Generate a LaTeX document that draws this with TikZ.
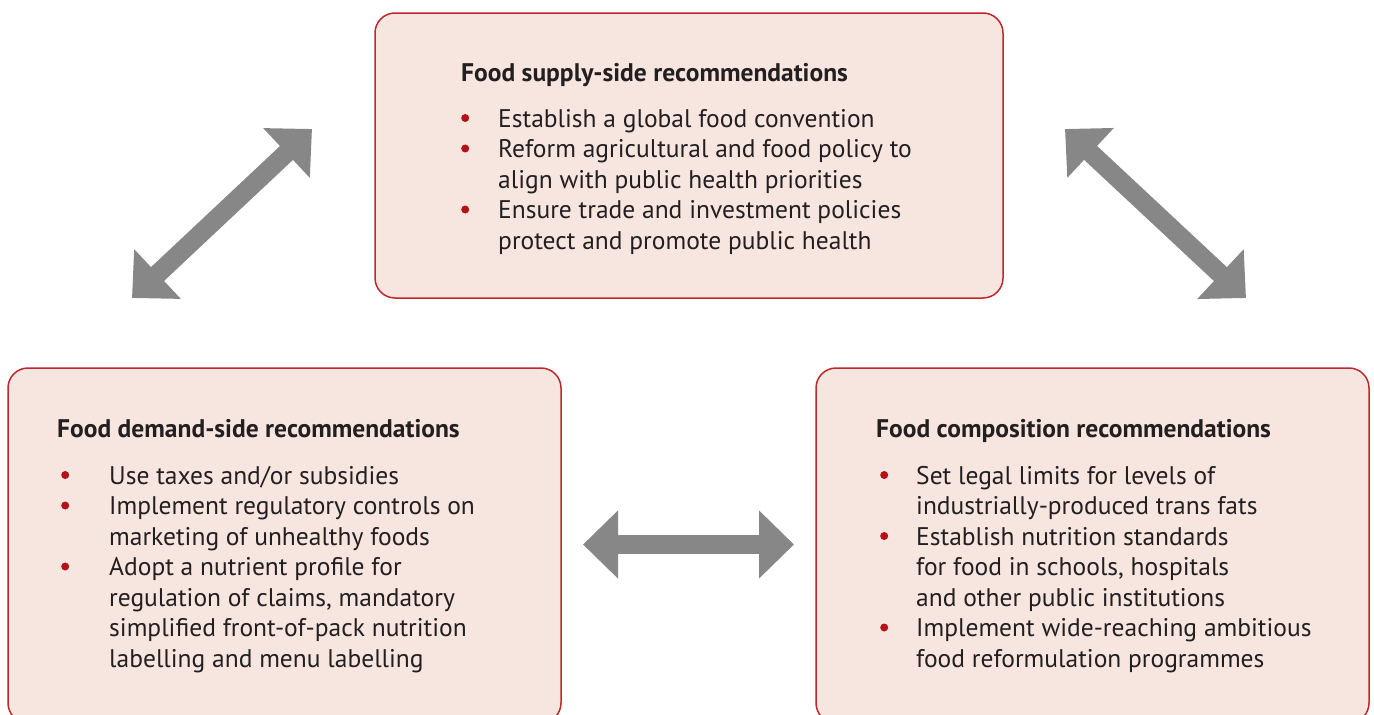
\documentclass[tikz,border=0pt]{standalone}
\usepackage{fontspec}
\setmainfont{PT Sans}
\usepackage{xcolor}
\usepackage{tikz}
\usetikzlibrary{arrows.meta}

\definecolor{boxpink}{HTML}{F7E5E0}
\definecolor{boxred}{HTML}{C0272D}
\definecolor{bulletred}{HTML}{B31217}
\definecolor{arrowgray}{HTML}{878787}
\definecolor{textgray}{HTML}{231F20}

\newcommand{\listfont}{\fontsize{25.5}{30.5}\selectfont}
\newcommand{\titlefont}{\fontsize{25.5}{30.5}\selectfont\bfseries}
\newcommand{\bdot}{\tikz[baseline=-9pt]\fill[bulletred] (0,0) circle (4pt);}

\tikzset{
  recbox/.style={draw=boxred, fill=boxpink, line width=1.5pt, rounded corners=20pt},
  rectitle/.style={anchor=base west, inner sep=0pt, text=textgray, font=\titlefont},
  reclist/.style={anchor=base west, inner sep=0pt, text=textgray, font=\listfont},
  twoway/.style={draw=arrowgray, line width=19pt,
    {Triangle[length=35pt,width=66pt]}-{Triangle[length=35pt,width=66pt]}}
}

\begin{document}
\begin{tikzpicture}[x=1pt, y=-1pt]
\useasboundingbox (0,0) rectangle (1374,715);
%%%%% Boxes %%%%%
\node[recbox, minimum width=628pt, minimum height=285pt] (supply) at (689,155.5) {};
\node[recbox, minimum width=553pt, minimum height=355pt] (demand) at (284.5,545.5) {};
\node[recbox, minimum width=553pt, minimum height=355pt] (compo) at (1092.5,545.5) {};
%%%%% Texts %%%%%
\node[rectitle] (supplytitle) at (461,81) {Food supply-side recommendations};
\node[reclist] (supplylist) at (461,127) {\begin{tabular}[t]{@{}l@{}l@{}}
\makebox[37pt][l]{\bdot} & Establish a global food convention\\
\makebox[37pt][l]{\bdot} & Reform agricultural and food policy to\\
      & align with public health priorities\\
\makebox[37pt][l]{\bdot} & Ensure trade and investment policies\\
      & protect and promote public health
\end{tabular}};
\node[rectitle] (demandtitle) at (57,437) {Food demand-side recommendations};
\node[reclist] (demandlist) at (61,484) {\begin{tabular}[t]{@{}l@{}l@{}}
\makebox[48pt][l]{\bdot} & Use taxes and/or subsidies\\
\makebox[48pt][l]{\bdot} & Implement regulatory controls on\\
      & marketing of unhealthy foods\\
\makebox[48pt][l]{\bdot} & Adopt a nutrient profile for\\
      & regulation of claims, mandatory\\
      & simplified front-of-pack nutrition\\
      & labelling and menu labelling
\end{tabular}};
\node[rectitle] (compotitle) at (876,437) {Food composition recommendations};
\node[reclist] (compolist) at (880,484) {\begin{tabular}[t]{@{}l@{}l@{}}
\makebox[36pt][l]{\bdot} & Set legal limits for levels of\\
      & industrially-produced trans fats\\
\makebox[36pt][l]{\bdot} & Establish nutrition standards\\
      & for food in schools, hospitals\\
      & and other public institutions\\
\makebox[36pt][l]{\bdot} & Implement wide-reaching ambitious\\
      & food reformulation programmes
\end{tabular}};
%%%%% Arrows %%%%%
\coordinate (sd1) at (132,298);
\coordinate (sd2) at (312,129);
\coordinate (sc1) at (1065,129);
\coordinate (sc2) at (1246,298);
\coordinate (dc1) at (583,544.5);
\coordinate (dc2) at (794,544.5);
\draw[twoway] (sd1) -- (sd2);
\draw[twoway] (sc1) -- (sc2);
\draw[twoway] (dc1) -- (dc2);
\end{tikzpicture}
\end{document}
